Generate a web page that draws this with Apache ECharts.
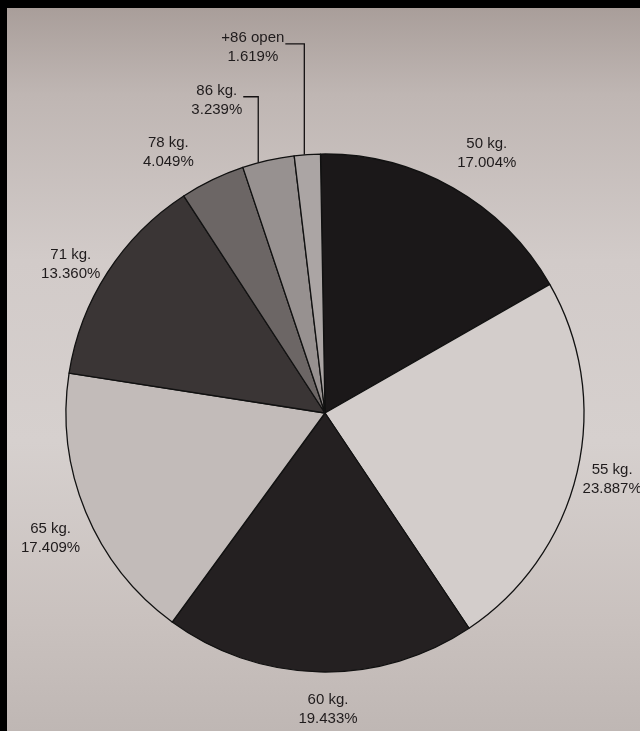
<!DOCTYPE html>
<html>
<head>
<meta charset="utf-8">
<script src="https://cdn.jsdelivr.net/npm/echarts@6/dist/echarts.min.js"></script>
<style>
html, body { margin: 0; padding: 0; background: #c6beba; }
#wrap {
  position: absolute; left: 0; top: 0;
  width: 633px; height: 723px;
  border-top: 8px solid #000; border-left: 7px solid #000;
}
#chart {
  width: 633px; height: 723px;
  background: linear-gradient(180deg, #a99e9a 0%, #bfb6b3 12%, #d2cbc9 35%, #d6d0ce 60%, #c9c1be 85%, #bfb7b4 100%);
}
</style>
</head>
<body>
<div id="wrap"><div id="chart"></div></div>
<script>
// ---- data ----
const categories = ['50 kg.', '55 kg.', '60 kg.', '65 kg.', '71 kg.', '78 kg.', '86 kg.', '+86 open'];
const percentages = [17.004, 23.887, 19.433, 17.409, 13.360, 4.049, 3.239, 1.619];
const percentLabels = ['17.004%', '23.887%', '19.433%', '17.409%', '13.360%', '4.049%', '3.239%', '1.619%'];

// ---- styles / layout ----
const sliceColors = ['#1b1819', '#d3cdcb', '#242021', '#c2bbb9', '#3a3535', '#6c6665', '#979190', '#aba5a4'];
const PIE_CENTER = [318, 405];
const PIE_RADIUS = 259;
const labelGap = 11;
const labelNudge = [[13, 2], [-8, -3], [9, 7], [7, 9], [2, 17], [-27, 8], [0, 0], [0, 0]];
// bent leader lines: horizontal shift of landing point, rise above landing, gap to label
const leaders = { 6: { shift: -10, rise: 66, gap: 16 }, 7: { shift: -3, rise: 111, gap: 20 } };

const chart = echarts.init(document.getElementById('chart'));

const seriesData = categories.map(function (name, i) {
  const showLine = leaders[i] != null;
  return {
    name: name,
    value: percentages[i],
    itemStyle: { color: sliceColors[i] },
    labelLine: { lineStyle: { color: '#141112', width: 1.3, opacity: showLine ? 1 : 0 } }
  };
});

chart.setOption({
  backgroundColor: 'transparent',
  animation: false,
  series: [{
    type: 'pie',
    center: PIE_CENTER,
    radius: [0, PIE_RADIUS],
    startAngle: 91,
    clockwise: true,
    avoidLabelOverlap: false,
    emphasis: { disabled: true },
    itemStyle: { borderColor: '#111', borderWidth: 1.3 },
    label: {
      show: true,
      position: 'outside',
      formatter: function (p) { return p.name + '\n' + percentLabels[p.dataIndex]; },
      fontFamily: '"Liberation Sans", Arial, sans-serif',
      fontSize: 15,
      lineHeight: 19,
      color: '#1f1b1c',
      align: 'center'
    },
    labelLine: { show: true, length: 10, length2: 0 },
    labelLayout: function (p) {
      const pts = p.labelLinePoints;
      if (!pts || pts.length < 2) return {};
      const p0 = pts[0];
      let dx = pts[1][0] - p0[0], dy = pts[1][1] - p0[1];
      const len = Math.hypot(dx, dy) || 1;
      dx /= len; dy /= len;
      const w = p.labelRect.width, h = p.labelRect.height;
      const i = p.dataIndex;
      const ld = leaders[i];
      if (ld) {
        const lx = p0[0] + ld.shift;
        const rx = lx - PIE_CENTER[0];
        const landY = PIE_CENTER[1] - Math.sqrt(PIE_RADIUS * PIE_RADIUS - rx * rx);
        const lineY = landY - ld.rise;
        const right = lx - ld.gap;
        const cy = lineY - 6 + h / 4;
        return {
          x: right - w / 2, y: cy, align: 'center', verticalAlign: 'middle',
          labelLinePoints: [[lx, landY], [lx, lineY], [right + 1, lineY]]
        };
      }
      const d = labelGap + Math.abs(dx) * w / 2 + Math.abs(dy) * h / 2;
      const n = labelNudge[i];
      return { x: p0[0] + dx * d + n[0], y: p0[1] + dy * d + n[1], align: 'center', verticalAlign: 'middle' };
    },
    data: seriesData
  }]
});
</script>
</body>
</html>
